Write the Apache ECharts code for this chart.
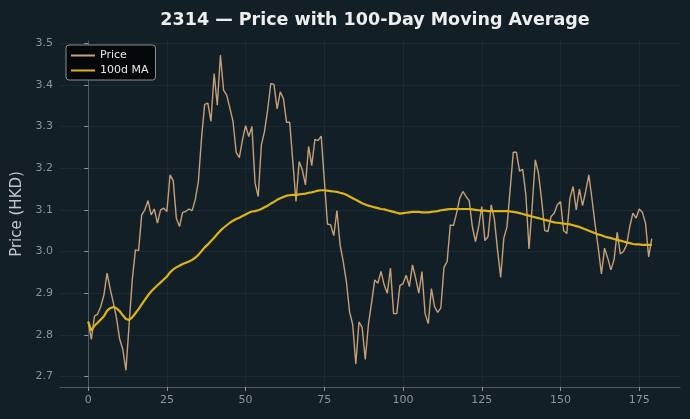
<!DOCTYPE html>
<html>
<head>
<meta charset="utf-8">
<script src="https://cdn.jsdelivr.net/npm/echarts@6/dist/echarts.min.js"></script>
<style>
  html, body { margin: 0; padding: 0; background: #121f26; }
  #chart { width: 690px; height: 419px; }
</style>
</head>
<body>
<div id="chart"></div>
<script>
// daily close (index 0..179)
const price = [
  2.832, 2.789, 2.845, 2.850, 2.868, 2.896, 2.948, 2.910, 2.877, 2.840,
  2.790, 2.765, 2.715, 2.825, 2.932, 3.004, 3.002, 3.088, 3.100, 3.122,
  3.088, 3.102, 3.068, 3.100, 3.104, 3.096, 3.184, 3.170, 3.080, 3.060,
  3.094, 3.096, 3.102, 3.098, 3.124, 3.168, 3.272, 3.353, 3.356, 3.312,
  3.427, 3.351, 3.471, 3.387, 3.375, 3.344, 3.312, 3.238, 3.225, 3.268,
  3.302, 3.276, 3.300, 3.164, 3.132, 3.256, 3.288, 3.340, 3.403, 3.401,
  3.342, 3.383, 3.367, 3.310, 3.310, 3.215, 3.120, 3.216, 3.196, 3.160,
  3.252, 3.206, 3.269, 3.266, 3.277, 3.170, 3.066, 3.064, 3.038, 3.098,
  3.016, 2.976, 2.928, 2.856, 2.825, 2.730, 2.831, 2.818, 2.741, 2.825,
  2.877, 2.932, 2.924, 2.952, 2.920, 2.900, 2.960, 2.851, 2.851, 2.918,
  2.923, 2.943, 2.916, 2.968, 2.936, 2.900, 2.952, 2.851, 2.827, 2.911,
  2.868, 2.854, 2.865, 2.962, 2.976, 3.064, 3.062, 3.092, 3.128, 3.144,
  3.132, 3.122, 3.060, 3.024, 3.060, 3.108, 3.026, 3.036, 3.112, 3.078,
  3.004, 2.938, 3.032, 3.059, 3.148, 3.238, 3.238, 3.193, 3.197, 3.136,
  3.006, 3.108, 3.220, 3.188, 3.124, 3.050, 3.048, 3.084, 3.092, 3.112,
  3.120, 3.050, 3.043, 3.128, 3.156, 3.100, 3.150, 3.110, 3.144, 3.184,
  3.126, 3.064, 3.008, 2.946, 3.008, 2.984, 2.956, 2.980, 3.046, 2.994,
  3.000, 3.016, 3.060, 3.092, 3.080, 3.102, 3.094, 3.068, 2.987, 3.031
];

// 100-day moving average
const ma100 = [
  2.832, 2.810, 2.822, 2.829, 2.837, 2.845, 2.858, 2.864, 2.867, 2.864,
  2.857, 2.847, 2.838, 2.836, 2.842, 2.852, 2.862, 2.873, 2.884, 2.895,
  2.904, 2.912, 2.919, 2.926, 2.933, 2.940, 2.950, 2.957, 2.962, 2.966,
  2.970, 2.973, 2.976, 2.980, 2.985, 2.992, 3.001, 3.010, 3.017, 3.025,
  3.033, 3.042, 3.050, 3.057, 3.063, 3.069, 3.074, 3.078, 3.081, 3.085,
  3.089, 3.093, 3.096, 3.097, 3.099, 3.102, 3.106, 3.110, 3.115, 3.119,
  3.124, 3.128, 3.131, 3.134, 3.135, 3.136, 3.136, 3.137, 3.138, 3.139,
  3.141, 3.142, 3.144, 3.146, 3.147, 3.147, 3.146, 3.145, 3.144, 3.143,
  3.141, 3.139, 3.136, 3.132, 3.128, 3.124, 3.120, 3.116, 3.113, 3.110,
  3.108, 3.106, 3.104, 3.102, 3.101, 3.099, 3.097, 3.095, 3.093, 3.091,
  3.092, 3.093, 3.094, 3.095, 3.095, 3.095, 3.094, 3.094, 3.094, 3.095,
  3.096, 3.097, 3.099, 3.100, 3.101, 3.102, 3.102, 3.102, 3.102, 3.102,
  3.102, 3.102, 3.101, 3.100, 3.099, 3.098, 3.098, 3.097, 3.097, 3.097,
  3.097, 3.097, 3.097, 3.097, 3.096, 3.095, 3.094, 3.092, 3.090, 3.088,
  3.086, 3.084, 3.082, 3.080, 3.078, 3.076, 3.074, 3.072, 3.070, 3.069,
  3.068, 3.067, 3.066, 3.065, 3.063, 3.061, 3.059, 3.056, 3.053, 3.050,
  3.047, 3.044, 3.041, 3.039, 3.036, 3.034, 3.032, 3.030, 3.028, 3.026,
  3.024, 3.022, 3.020, 3.018, 3.017, 3.017, 3.016, 3.016, 3.016, 3.016
];

const xTicks = [0, 25, 50, 75, 100, 125, 150, 175];
const yTicks = [2.7, 2.8, 2.9, 3.0, 3.1, 3.2, 3.3, 3.4, 3.5];

const gridColor = '#1b2a32';
const tickColor = '#8b959c';
const spineColor = '#4f5a60';

const chart = echarts.init(document.getElementById('chart'));

chart.setOption({
  backgroundColor: '#121f26',
  animation: false,
  textStyle: { fontFamily: 'DejaVu Sans' },
  title: {
    text: '2314 — Price with 100-Day Moving Average',
    left: 370,
    textAlign: 'center',
    top: 6,
    textStyle: { color: '#eeeeee', fontSize: 17.5, fontWeight: 'bold', fontFamily: 'DejaVu Sans' },
  },
  legend: {
    orient: 'vertical',
    left: 66,
    top: 45,
    padding: [5, 7, 4, 5],
    itemGap: 4,
    itemWidth: 24,
    itemHeight: 2,
    backgroundColor: '#04080a',
    borderColor: '#8a8f92',
    borderWidth: 1,
    borderRadius: 3,
    textStyle: { color: '#e8e8e8', fontSize: 11 },
    data: [
      { name: 'Price', icon: 'rect' },
      { name: '100d MA', icon: 'rect' },
    ],
  },
  grid: { left: 60, right: 10, top: 41, bottom: 32, outerBoundsMode: 'none', containLabel: false },
  xAxis: {
    type: 'value',
    min: -8.95,
    max: 187.95,
    axisLine: { show: true, onZero: false, lineStyle: { color: spineColor } },
    axisTick: { show: true, length: 4, customValues: xTicks, lineStyle: { color: tickColor } },
    axisLabel: { customValues: xTicks, color: tickColor, fontSize: 11, margin: 8 },
    splitLine: { show: true, lineStyle: { color: gridColor } },
  },
  yAxis: {
    type: 'value',
    min: 2.675,
    max: 3.505,
    name: 'Price (HKD)',
    nameLocation: 'middle',
    nameGap: 34,
    nameTextStyle: { color: '#c2c7cb', fontSize: 15 },
    axisLine: { show: true, lineStyle: { color: spineColor } },
    axisTick: { show: true, length: 4, customValues: yTicks, lineStyle: { color: tickColor } },
    axisLabel: { customValues: yTicks, color: tickColor, fontSize: 11, margin: 7, formatter: (v) => v.toFixed(1) },
    splitLine: { show: true, lineStyle: { color: gridColor } },
  },
  series: [
    {
      name: 'Price',
      type: 'line',
      data: price.map((v, i) => [i, v]),
      showSymbol: false,
      lineStyle: { color: '#c6a078', width: 1.4 },
      itemStyle: { color: '#c6a078' },
    },
    {
      name: '100d MA',
      type: 'line',
      data: ma100.map((v, i) => [i, v]),
      showSymbol: false,
      lineStyle: { color: '#dcb41a', width: 2.2 },
      itemStyle: { color: '#dcb41a' },
    },
  ],
});
</script>
</body>
</html>
